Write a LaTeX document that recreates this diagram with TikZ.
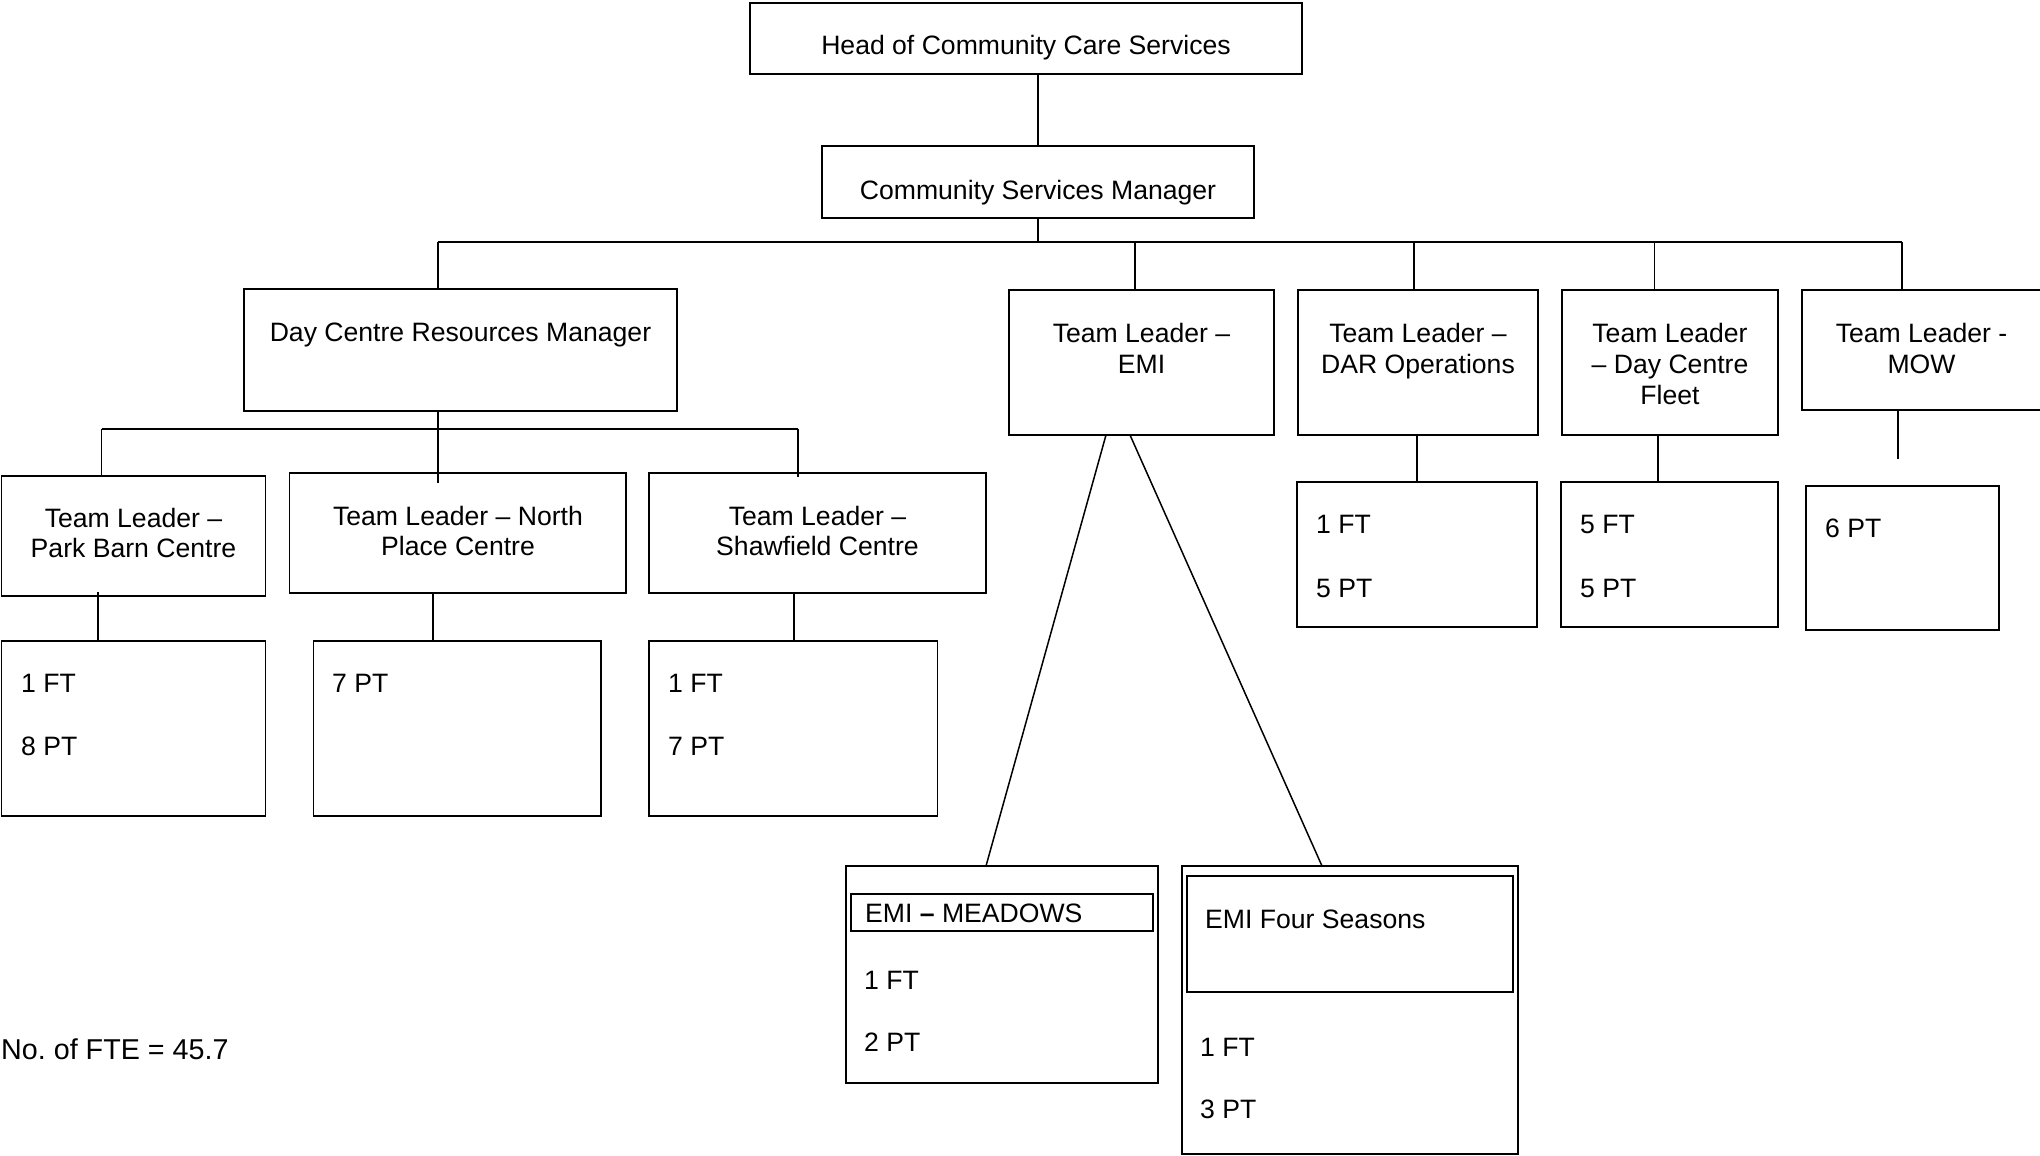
\documentclass[tikz,border=0pt]{standalone}
\usepackage{fontspec}
\setmainfont{Liberation Sans}
\newcommand\fs{\fontsize{26.6}{30}\selectfont}
\newcommand\mybox[5]{\node[box, minimum width={(#4-#2)*1pt}, minimum height={(#5-#3)*1pt}] (#1) at ({(#2+#4)/2},{(#3+#5)/2}) {};}
\begin{document}
\begin{tikzpicture}[x=1pt,y=-1pt,
  box/.style={draw, line width=1.5pt, rectangle, inner sep=0pt, outer sep=0pt},
  txt/.style={inner sep=0pt, anchor=base, font=\fs},
  ltxt/.style={inner sep=0pt, anchor=base west, font=\fs},
  link/.style={line width=1.5pt}]
\useasboundingbox (0,0) rectangle (2040,1156);
\fill[white] (0,0) rectangle (2040,1156);

% boxes
\mybox{head}{750}{3}{1302}{74}
\mybox{csm}{822}{146}{1254}{218}
\mybox{dcrm}{244}{289}{677}{411}
\mybox{emi}{1009}{290}{1274}{435}
\mybox{dar}{1298}{290}{1538}{435}
\mybox{fleet}{1562}{290}{1778}{435}
\mybox{mow}{1802}{290}{2043}{410}
\mybox{park}{1.5}{476}{265.5}{596}
\mybox{north}{289.5}{473}{626}{593}
\mybox{shaw}{649}{473}{986}{593}
\mybox{parkc}{1.5}{641}{265.5}{816}
\mybox{northc}{313.5}{641}{601}{816}
\mybox{shawc}{649}{641}{937.5}{816}
\mybox{darc}{1297}{482}{1537}{627}
\mybox{fleetc}{1561}{482}{1778}{627}
\mybox{mowc}{1806}{486}{1999}{630}
\mybox{mead}{846}{866}{1158}{1083}
\mybox{meadin}{851}{894}{1153}{931}
\mybox{four}{1182}{866}{1518}{1154}
\mybox{fourin}{1187}{876}{1513}{992}

% texts
\node[txt] (thead) at (1026,54.5) {Head of Community Care Services};
\node[txt] (tcsm) at (1038,199.5) {Community Services Manager};
\node[txt] (tdcrm) at (460.5,341.5) {Day Centre Resources Manager};
\node[txt] (temi1) at (1141.5,342.5) {Team Leader –};
\node[txt] (temi2) at (1141.5,373) {EMI};
\node[txt] (tdar1) at (1418,342.5) {Team Leader –};
\node[txt] (tdar2) at (1418,373) {DAR Operations};
\node[txt] (tfl1) at (1670,342.5) {Team Leader};
\node[txt] (tfl2) at (1670,373.5) {– Day Centre};
\node[txt] (tfl3) at (1670,404.5) {Fleet};
\node[txt] (tmow1) at (1921.5,342.5) {Team Leader -};
\node[txt] (tmow2) at (1921.5,373) {MOW};
\node[txt] (tpark1) at (133.5,527.8) {Team Leader –};
\node[txt] (tpark2) at (133.5,557.8) {Park Barn Centre};
\node[txt] (tnorth1) at (458,525.5) {Team Leader – North};
\node[txt] (tnorth2) at (458,555.5) {Place Centre};
\node[txt] (tshaw1) at (817.5,525.5) {Team Leader –};
\node[txt] (tshaw2) at (817.5,555.5) {Shawfield Centre};

\node[ltxt] (cpark1) at (21,692.7) {1 FT};
\node[ltxt] (cpark2) at (21,755.5) {8 PT};
\node[ltxt] (cnorth) at (332,692.7) {7 PT};
\node[ltxt] (cshaw1) at (668,692.7) {1 FT};
\node[ltxt] (cshaw2) at (668,755.5) {7 PT};
\node[ltxt] (cdar1) at (1316,533.7) {1 FT};
\node[ltxt] (cdar2) at (1316,597.5) {5 PT};
\node[ltxt] (cfl1) at (1580,533.7) {5 FT};
\node[ltxt] (cfl2) at (1580,597.5) {5 PT};
\node[ltxt] (cmow) at (1825,537) {6 PT};
\node[ltxt] (tmead) at (865,922) {EMI \textbf{–} MEADOWS};
\node[ltxt] (cmead1) at (864,989.5) {1 FT};
\node[ltxt] (cmead2) at (864,1051.5) {2 PT};
\node[ltxt] (tfour) at (1205,928.5) {EMI Four Seasons};
\node[ltxt] (cfour1) at (1200,1056.5) {1 FT};
\node[ltxt] (cfour2) at (1200,1118.5) {3 PT};
\node[ltxt, font=\fontsize{28.7}{32}\selectfont] (fte) at (1,1059) {No.\ of FTE = 45.7};

% connectors
\coordinate (busL) at (438,242);
\coordinate (busR) at (1902,242);
\coordinate (bus2L) at (101.5,429);
\coordinate (bus2R) at (798,429);
\coordinate (mowend) at (1898,459);

\draw[link] (csm.north) -- (csm.north |- head.south);
\draw[link] (csm.south) -- (csm.south |- busL);
\draw[link] (busL) -- (busR);
\draw[line width=2.6pt] (606,242) -- (631,242);
\draw[link] (busL) -- (busL |- dcrm.north);
\draw[link] ([xshift=-6.5pt]emi.north |- busL) -- ([xshift=-6.5pt]emi.north);
\draw[link] ([xshift=-4pt]dar.north |- busL) -- ([xshift=-4pt]dar.north);
\draw[link] ([xshift=-15.5pt]fleet.north |- busL) -- ([xshift=-15.5pt]fleet.north);
\draw[link] (busR) -- (busR |- mow.north);

\draw[link] (busL |- dcrm.south) -- ([yshift=-10pt]busL |- north.north);
\draw[link] (bus2L) -- (bus2R);
\draw[link] (bus2L) -- ([yshift=-1pt]bus2L |- park.north);
\draw[link] (bus2R) -- ([yshift=-4pt]bus2R |- shaw.north);

\draw[link] ([shift={(-35.5pt,4pt)}]park.south) -- ([xshift=-35.5pt]parkc.north);
\draw[link] ([xshift=-24.75pt]north.south) -- ([xshift=-24.75pt]north.south |- northc.north);
\draw[link] ([xshift=0.75pt]shawc.north |- shaw.south) -- ([xshift=0.75pt]shawc.north);
\draw[link] ([xshift=-1pt]dar.south) -- ([xshift=-1pt]dar.south |- darc.north);
\draw[link] ([xshift=-12pt]fleet.south) -- ([xshift=-12pt]fleet.south |- fleetc.north);
\draw[link] (mowend |- mow.south) -- (mowend);

\draw[link] ([xshift=-35.5pt]emi.south) -- ([xshift=-16pt]mead.north);
\draw[link] ([xshift=-11.5pt]emi.south) -- ([xshift=-28pt]four.north);
\end{tikzpicture}
\end{document}
